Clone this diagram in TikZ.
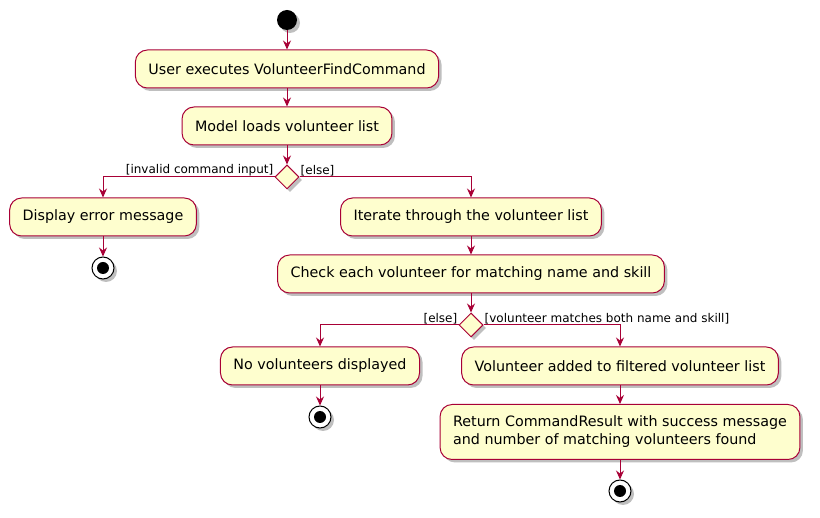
\documentclass[tikz,border=0pt]{standalone}
\usepackage{fontspec}
\setmainfont{DejaVu Sans}
\usetikzlibrary{shapes.geometric,shadows,arrows.meta}
\definecolor{umlfill}{HTML}{FEFECE}
\definecolor{umlline}{HTML}{A80036}
\tikzset{
  act/.style={draw=umlline, fill=umlfill, line width=1pt, rounded corners=12pt,
    minimum height=38pt, inner xsep=13pt, font=\fontsize{14.3}{18}\selectfont,
    drop shadow={shadow xshift=3pt, shadow yshift=-3pt, fill=black, opacity=0.25}},
  dec/.style={draw=umlline, fill=umlfill, line width=1pt, diamond, inner sep=0pt,
    minimum width=24pt, minimum height=24pt,
    drop shadow={shadow xshift=3pt, shadow yshift=-3pt, fill=black, opacity=0.25}},
  startnode/.style={circle, fill=black, minimum size=20pt, inner sep=0pt,
    drop shadow={shadow xshift=3pt, shadow yshift=-3pt, fill=black, opacity=0.25}},
  flow/.style={draw=umlline, line width=1pt, -{Stealth[length=9pt,width=8pt,inset=3pt]}},
  guard/.style={font=\fontsize{12}{14}\selectfont, inner sep=1pt}
}
\newcommand{\finalmark}[2]{%
  \node[circle, draw=black, fill=white, line width=1pt, minimum size=22pt, inner sep=0pt,
    drop shadow={shadow xshift=3pt, shadow yshift=-3pt, fill=black, opacity=0.25}] (#1) at #2 {};
  \fill[black] (#1.center) circle (6pt);}
\begin{document}
\begin{tikzpicture}[x=1pt,y=-1pt]
\useasboundingbox (0,0) rectangle (820,518);
\node[startnode] (s) at (287,20) {};
\node[act] (a1) at (287,69) {User executes VolunteerFindCommand};
\node[act] (a2) at (287,126) {Model loads volunteer list};
\node[dec] (d1) at (287,177) {};
\node[act] (a3) at (103,217) {Display error message};
\finalmark{e1}{(103,268)}
\node[act] (a4) at (471,217) {Iterate through the volunteer list};
\node[act] (a5) at (471,274) {Check each volunteer for matching name and skill};
\node[dec] (d2) at (471,325) {};
\node[act] (a6) at (320,366) {No volunteers displayed};
\finalmark{e2}{(320,417)}
\node[act] (a7) at (620,366) {Volunteer added to filtered volunteer list};
\node[act, minimum height=55pt, align=left] (a8) at (620,432) {Return CommandResult with success message\\and number of matching volunteers found};
\finalmark{e3}{(620,491)}

\draw[flow] (s) -- (a1);
\draw[flow] (a1) -- (a2);
\draw[flow] (a2) -- (d1);
\draw[flow] (d1.west) -| (a3.north);
\draw[flow] (d1.east) -| (a4.north);
\draw[flow] (a3) -- (e1);
\draw[flow] (a4) -- (a5);
\draw[flow] (a5) -- (d2);
\draw[flow] (d2.west) -| (a6.north);
\draw[flow] (d2.east) -| (a7.north);
\draw[flow] (a6) -- (e2);
\draw[flow] (a7) -- (a8);
\draw[flow] (a8) -- (e3);

\node[guard, anchor=south east] (g1) at (d1.west) {[invalid command input]};
\node[guard, anchor=south west] (g2) at (d1.east) {[else]};
\node[guard, anchor=south east] (g3) at (d2.west) {[else]};
\node[guard, anchor=south west] (g4) at (d2.east) {[volunteer matches both name and skill]};
\end{tikzpicture}
\end{document}
